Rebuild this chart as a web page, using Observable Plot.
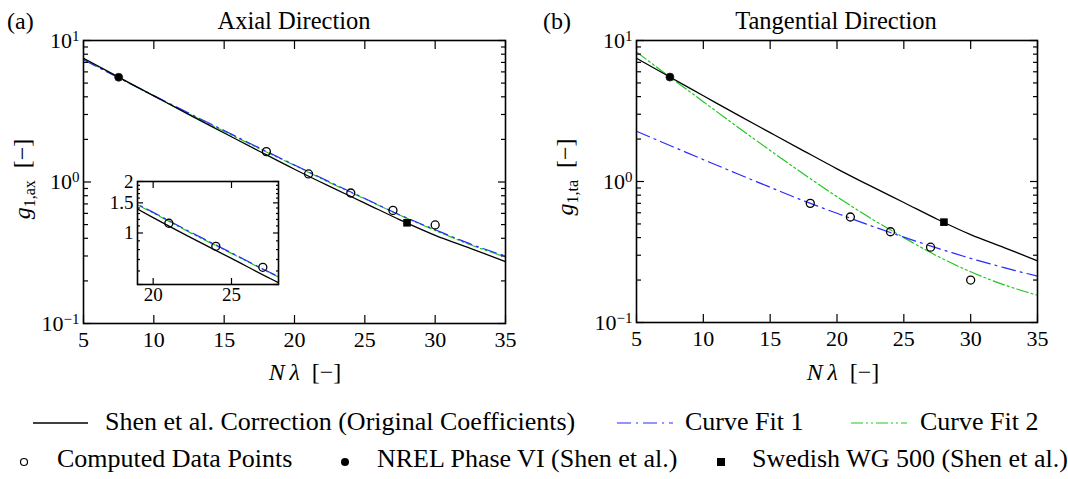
<!DOCTYPE html>
<html>
<head>
<meta charset="utf-8">
<script src="https://cdn.jsdelivr.net/npm/d3@7"></script>
<script src="https://cdn.jsdelivr.net/npm/@observablehq/plot@0.6"></script>
<style>
  body { margin: 0; background: #fff; }
  #root { position: relative; width: 1068px; height: 479px; overflow: hidden; background: #fff; font-family: "Liberation Serif", "Times New Roman", Times, "DejaVu Serif", serif; }
  #root svg, #root text { font-family: "Liberation Serif", "Times New Roman", Times, "DejaVu Serif", serif; }
</style>
</head>
<body>
<div id="root"></div>
<script>
// ---------------- data ----------------
const nlGrid = [5, 7.5, 10, 12.5, 15, 17.5, 20, 22.5, 25, 27.5, 30, 32.5, 35];
const shenOriginal = [7.49, 5.51, 4.06, 2.99, 2.22, 1.65, 1.23, 0.93, 0.71, 0.54, 0.42, 0.34, 0.274];
const axialFit1 = [7.3, 5.45, 4.08, 3.06, 2.31, 1.74, 1.32, 1.0, 0.765, 0.585, 0.46, 0.365, 0.30];
const axialFit2 = [7.4, 5.45, 4.05, 3.03, 2.28, 1.72, 1.31, 0.99, 0.76, 0.582, 0.455, 0.36, 0.295];
const tangFit1 = [2.27, 1.80, 1.43, 1.14, 0.91, 0.73, 0.595, 0.487, 0.403, 0.337, 0.285, 0.245, 0.213];
const tangFit2 = [8.3, 5.51, 3.68, 2.46, 1.66, 1.13, 0.78, 0.55, 0.40, 0.296, 0.229, 0.185, 0.156];
const computedX = [18, 21, 24, 27, 30];
const axialComputed = [1.64, 1.14, 0.836, 0.63, 0.497];
const tangComputed = [0.70, 0.56, 0.44, 0.342, 0.20];
const nrelX = [7.5], nrelY = [5.5];
const swedishX = [28], swedishY = [0.515];

const xTicks = [5, 10, 15, 20, 25, 30, 35];
const yMajor = [0.1, 1, 10];
const yMajorLabels = ["10^\u22121", "10^0", "10^1"];
const yMinor = [0.2, 0.3, 0.4, 0.5, 0.6, 0.7, 0.8, 0.9, 2, 3, 4, 5, 6, 7, 8, 9];
const insetXTicks = [20, 25];
const insetYTicks = [0.5, 1, 1.5, 2];
const insetYLabels = ["0.5", "1", "1.5", "2"];
const insetYMinor = [0.6, 0.7, 0.8, 0.9, 1.1, 1.2, 1.3, 1.4, 1.6, 1.7, 1.8, 1.9];

const legendRow1 = ["Shen et al. Correction (Original Coefficients)", "Curve Fit 1", "Curve Fit 2"];
const legendRow2 = ["Computed Data Points", "NREL Phase VI (Shen et al.)", "Swedish WG 500 (Shen et al.)"];

// ---------------- styling ----------------
const FONT = "\"Liberation Serif\", \"Times New Roman\", Times, \"DejaVu Serif\", serif";
const BLUE = "#2a2aff", GREEN = "#1ec81e";
const DASH1 = "14,5,2,5", DASH2 = "12,3,2,3,2,3";
const NS = "http://www.w3.org/2000/svg";
const root = document.getElementById("root");

const rows = (xs, ys) => xs.map((x, i) => ({x, y: ys[i]}));

function seriesMarks(fit1, fit2, clip) {
  return [
    Plot.line(rows(nlGrid, fit2), {x: "x", y: "y", stroke: GREEN, strokeWidth: 1.2, strokeDasharray: DASH2, curve: "monotone-x", clip}),
    Plot.line(rows(nlGrid, fit1), {x: "x", y: "y", stroke: BLUE, strokeWidth: 1.2, strokeDasharray: DASH1, curve: "monotone-x", clip}),
    Plot.line(rows(nlGrid, shenOriginal), {x: "x", y: "y", stroke: "black", strokeWidth: 1.3, curve: "monotone-x", clip})
  ];
}

function tickMarks(xt, yMaj, yMin, maj, min) {
  const o = {fill: "none", label: null, strokeWidth: 1.2};
  return [
    Plot.axisX(xt, {...o, anchor: "bottom", tickSize: -maj}),
    Plot.axisX(xt, {...o, anchor: "top", tickSize: -maj}),
    Plot.axisY(yMaj, {...o, anchor: "left", tickSize: -maj}),
    Plot.axisY(yMaj, {...o, anchor: "right", tickSize: -maj}),
    Plot.axisY(yMin, {...o, anchor: "left", tickSize: -min}),
    Plot.axisY(yMin, {...o, anchor: "right", tickSize: -min})
  ];
}

function superscripts(svg) {
  svg.querySelectorAll("text").forEach(t => {
    const s = t.textContent;
    if (!s.includes("^")) return;
    const [base, exp] = s.split("^");
    t.textContent = "";
    const a = document.createElementNS(NS, "tspan"); a.textContent = base; t.appendChild(a);
    const b = document.createElementNS(NS, "tspan");
    b.setAttribute("dy", "-7"); b.setAttribute("font-size", "15"); b.textContent = exp;
    t.appendChild(b);
  });
}

function place(node, left, top) {
  node.style.position = "absolute";
  node.style.left = left + "px";
  node.style.top = top + "px";
  root.appendChild(node);
}

const plotStyle = {fontFamily: FONT, fontSize: "22px", background: "transparent", color: "black", overflow: "visible"};

function panel({fit1, fit2, computed, width, marginRight, marginBottom}) {
  const svg = Plot.plot({
    width, height: 390,
    marginLeft: 83, marginRight, marginTop: 40, marginBottom,
    style: plotStyle,
    x: {domain: [5, 35]},
    y: {type: "log", domain: [0.1, 10]},
    marks: [
      ...seriesMarks(fit1, fit2, false),
      Plot.dot(rows(computedX, computed), {x: "x", y: "y", r: 4, stroke: "black", strokeWidth: 1.3, fill: "none"}),
      Plot.dot(rows(nrelX, nrelY), {x: "x", y: "y", r: 4, fill: "black", stroke: "#222", strokeWidth: 0.8}),
      Plot.dot(rows(swedishX, swedishY), {x: "x", y: "y", r: 4.3, symbol: "square", fill: "black"}),
      ...tickMarks(xTicks, yMajor, yMinor, 8, 5),
      Plot.axisX(xTicks, {anchor: "bottom", tickSize: 0, tickPadding: 8, label: null, tickFormat: d => String(d)}),
      Plot.axisY(yMajor, {anchor: "left", tickSize: 0, tickPadding: 4, label: null, tickFormat: d => yMajorLabels[yMajor.indexOf(d)]}),
      Plot.frame({stroke: "black", strokeWidth: 1.6})
    ]
  });
  superscripts(svg);
  return svg;
}

// ---------------- panels ----------------
place(panel({fit1: axialFit1, fit2: axialFit2, computed: axialComputed, width: 540, marginRight: 35, marginBottom: 67}), 0, 0);
place(panel({fit1: tangFit1, fit2: tangFit2, computed: tangComputed, width: 515, marginRight: 31, marginBottom: 68}), 553, 0);

// ---------------- inset ----------------
const inset = Plot.plot({
  width: 200, height: 140,
  marginLeft: 37, marginRight: 22, marginTop: 11, marginBottom: 26,
  style: {...plotStyle, fontSize: "19px"},
  x: {domain: [19, 28]},
  y: {type: "log", domain: [0.5, 2]},
  marks: [
    Plot.frame({fill: "white", stroke: "none"}),
    ...seriesMarks(axialFit1, axialFit2, true),
    Plot.dot(rows(computedX, axialComputed), {x: "x", y: "y", r: 4, stroke: "black", strokeWidth: 1.3, fill: "none", clip: true}),
    ...tickMarks(insetXTicks, insetYTicks, insetYMinor, 6, 3),
    Plot.axisX(insetXTicks, {anchor: "bottom", tickSize: 0, tickPadding: 3, label: null, tickFormat: d => String(d)}),
    Plot.axisY(insetYTicks, {anchor: "left", tickSize: 0, tickPadding: 4, label: null, tickFormat: d => insetYLabels[insetYTicks.indexOf(d)]}),
    Plot.frame({stroke: "black", strokeWidth: 1.6})
  ]
});
place(inset, 100, 170);

// ---------------- overlay: titles, axis labels, legend ----------------
const ov = d3.create("svg")
  .attr("width", 1068).attr("height", 479)
  .attr("font-family", FONT)
  .style("position", "absolute").style("left", "0px").style("top", "0px")
  .style("overflow", "visible");

function label(x, y, str, size, anchor = "start") {
  return ov.append("text").attr("x", x).attr("y", y).attr("font-size", size)
    .attr("text-anchor", anchor).attr("fill", "black").text(str);
}

label(7, 29, "(a)", 24);
label(294, 29, "Axial Direction", 24.5, "middle");
label(543, 29, "(b)", 24);
label(836, 29, "Tangential Direction", 24.5, "middle");

function xLabel(cx) {
  const t = ov.append("text").attr("x", cx).attr("y", 380).attr("font-size", 24).attr("text-anchor", "middle");
  t.append("tspan").attr("font-style", "italic").text("N\u2009\u03bb");
  t.append("tspan").text("\u2002[\u2212]");
}
xLabel(305);
xLabel(843);

function yLabel(bx, cy, sub) {
  const t = ov.append("text").attr("transform", `translate(${bx},${cy}) rotate(-90)`)
    .attr("font-size", 24).attr("text-anchor", "middle");
  t.append("tspan").attr("font-style", "italic").text("g");
  t.append("tspan").attr("font-size", 16).attr("dy", 5).text(sub);
  t.append("tspan").attr("dy", -5).text("\u2002[\u2212]");
}
yLabel(30, 179, "1,ax");
yLabel(573, 177, "1,ta");

// legend
const LEG = 26;
ov.append("line").attr("x1", 33).attr("x2", 88).attr("y1", 423).attr("y2", 423).attr("stroke", "black").attr("stroke-width", 1.3);
label(105, 430, legendRow1[0], LEG);
ov.append("line").attr("x1", 617).attr("x2", 673).attr("y1", 423).attr("y2", 423).attr("stroke", BLUE).attr("stroke-width", 1.2).attr("stroke-dasharray", DASH1);
label(685, 430, legendRow1[1], LEG);
ov.append("line").attr("x1", 851).attr("x2", 907).attr("y1", 423).attr("y2", 423).attr("stroke", GREEN).attr("stroke-width", 1.2).attr("stroke-dasharray", DASH2);
label(920, 430, legendRow1[2], LEG);

ov.append("circle").attr("cx", 24).attr("cy", 462).attr("r", 3.5).attr("fill", "none").attr("stroke", "black").attr("stroke-width", 1.2);
label(57, 467, legendRow2[0], LEG);
ov.append("circle").attr("cx", 345).attr("cy", 462).attr("r", 4).attr("fill", "black");
label(377, 467, legendRow2[1], LEG);
ov.append("rect").attr("x", 717).attr("y", 458).attr("width", 8).attr("height", 8).attr("fill", "black");
label(752, 467, legendRow2[2], LEG);

root.appendChild(ov.node());
</script>
</body>
</html>
